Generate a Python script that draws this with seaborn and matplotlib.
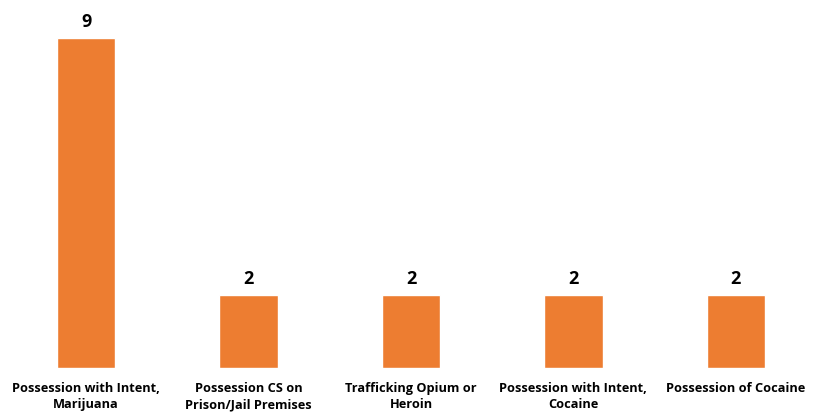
import matplotlib
matplotlib.use("Agg")
import matplotlib.pyplot as plt
import seaborn as sns
import pandas as pd

categories = ["Possession with Intent,\nMarijuana",
              "Possession CS on\nPrison/Jail Premises",
              "Trafficking Opium or\nHeroin",
              "Possession with Intent,\nCocaine",
              "Possession of Cocaine"]
counts = [9, 2, 2, 2, 2]

df = pd.DataFrame({"offense": categories, "count": counts})

sns.set_style("white")
plt.rcParams['font.family'] = ['Open Sans', 'DejaVu Sans']

fig = plt.figure(figsize=(8.24, 4.17), dpi=100)
ax = fig.add_axes([5/824, 49/417, 812/824, 330/417])
sns.barplot(data=df, x="offense", y="count", color="#ED7D31", saturation=1,
            width=0.36, ax=ax)
ax.set_ylim(0, 9)
ax.set_xlim(-0.5, 4.5)
for c in ax.containers:
    ax.bar_label(c, fontsize=13, fontweight="bold", padding=5, color="black",
                 clip_on=False)
ax.set_xlabel("")
ax.set_ylabel("")
ax.set_yticks([])
ax.tick_params(axis="x", length=0, pad=10)
for lbl in ax.get_xticklabels():
    lbl.set_fontsize(9.2)
    lbl.set_fontweight("bold")
    lbl.set_color("black")
    lbl.set_linespacing(1.35)
sns.despine(ax=ax, left=True, bottom=True)
fig.savefig("out.png", dpi=100)
